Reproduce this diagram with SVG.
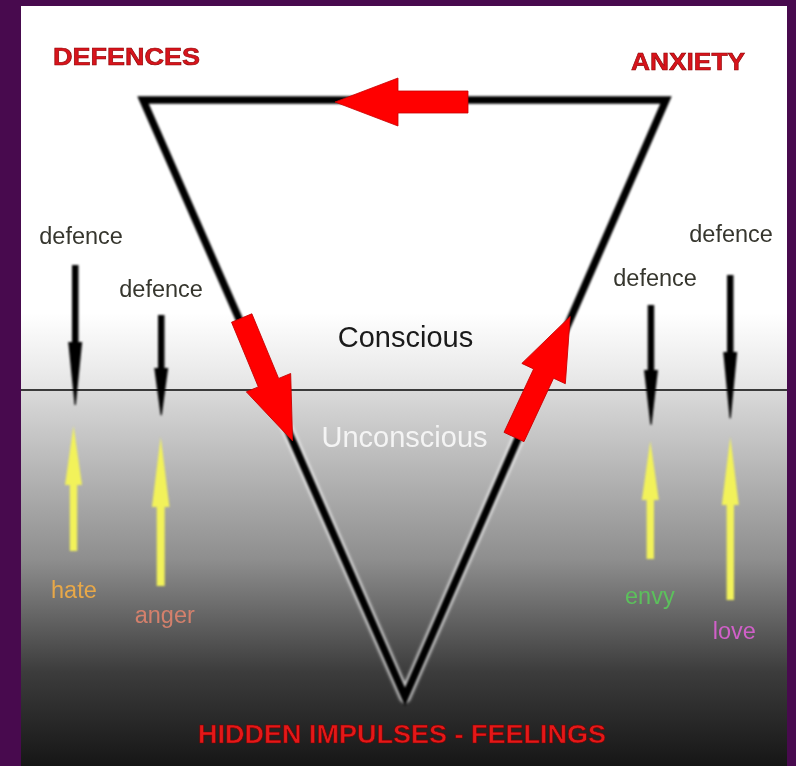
<svg xmlns="http://www.w3.org/2000/svg" width="796" height="766" viewBox="0 0 796 766">
  <defs>
    <linearGradient id="gTop" x1="0" y1="6" x2="0" y2="390" gradientUnits="userSpaceOnUse">
      <stop offset="0" stop-color="#ffffff"/>
      <stop offset="0.8" stop-color="#ffffff"/>
      <stop offset="1" stop-color="#e4e4e4"/>
    </linearGradient>
    <linearGradient id="gBot" x1="0" y1="390" x2="0" y2="766" gradientUnits="userSpaceOnUse">
      <stop offset="0" stop-color="#dadada"/>
      <stop offset="0.45" stop-color="#8e8e8e"/>
      <stop offset="0.75" stop-color="#3c3c3c"/>
      <stop offset="1" stop-color="#161616"/>
    </linearGradient>
    <filter id="soft" x="-20%" y="-20%" width="140%" height="140%">
      <feGaussianBlur stdDeviation="0.8"/>
    </filter>
    <filter id="halo" x="-20%" y="-20%" width="140%" height="140%">
      <feGaussianBlur stdDeviation="1.6"/>
    </filter>
    <path id="redArrow" d="M0,-11 L70,-11 L70,-24 L133,0 L70,24 L70,11 L0,11 Z"/>
    <path id="blackHead" d="M-7,0 L7,0 L0.6,63 L-0.6,63 Z"/>
  </defs>
  <style>
    .red { fill: #d8141c; stroke: #8a0000; stroke-width: 0.6; font-family: "Liberation Sans", Arial, sans-serif; font-weight: bold; }
    .lbl { font-family: "Liberation Sans", Arial, sans-serif; }
    .def { fill: #36362e; font-size: 23.5px; }
    .ra { fill: #ff0000; stroke: #c80000; stroke-width: 0.8; }
    .yel { fill: #f2f25a; }
    .blk { fill: #000000; }
  </style>

  <!-- frame and background -->
  <rect x="0" y="0" width="796" height="766" fill="#480a4e"/>
  <rect x="21" y="6" width="766" height="384" fill="url(#gTop)"/>
  <rect x="21" y="390" width="766" height="376" fill="url(#gBot)"/>
  <line x1="21" y1="390" x2="787" y2="390" stroke="#3a3a3a" stroke-width="2"/>

  <!-- triangle -->
  <g id="triangle">
    <path d="M143,100 L666,100 L405,697 Z" fill="none" stroke="#ffffff" stroke-opacity="0.7" stroke-width="12" stroke-linejoin="round" filter="url(#halo)"/>
    <path d="M143,100 L666,100 L405,697 Z" fill="none" stroke="#000000" stroke-width="7.5" stroke-linejoin="miter" filter="url(#soft)"/>
  </g>

  <!-- red cycle arrows -->
  <g id="connectors">
    <use href="#redArrow" class="ra" transform="translate(468,102) rotate(180)"/>
    <use href="#redArrow" class="ra" transform="translate(241.7,318) rotate(67.5)"/>
    <use href="#redArrow" class="ra" transform="translate(514,437) rotate(-65)"/>

    <!-- black defence arrows -->
    <g filter="url(#soft)">
      <rect class="blk" x="72" y="265" width="6.5" height="78"/>
      <use href="#blackHead" class="blk" transform="translate(75.2,342)"/>
      <rect class="blk" x="158" y="315" width="6.5" height="54"/>
      <use href="#blackHead" class="blk" transform="translate(161.2,368) scale(1,0.75)"/>
      <rect class="blk" x="647.7" y="305" width="6.5" height="66"/>
      <use href="#blackHead" class="blk" transform="translate(651,370) scale(1,0.87)"/>
      <rect class="blk" x="727" y="275" width="6.5" height="78"/>
      <use href="#blackHead" class="blk" transform="translate(730.2,352) scale(1,1.05)"/>
    </g>

    <!-- yellow impulse arrows -->
    <g filter="url(#soft)">
      <path class="yel" d="M73.5,426 L82,485 L77.2,485 L77.2,551 L69.8,551 L69.8,485 L65,485 Z"/>
      <path class="yel" d="M160.7,437 L169.5,507 L164.7,507 L164.7,586 L156.7,586 L156.7,507 L151.9,507 Z"/>
      <path class="yel" d="M650.3,441 L658.8,500 L654,500 L654,559 L646.6,559 L646.6,500 L641.8,500 Z"/>
      <path class="yel" d="M730.3,437 L738.8,505 L734,505 L734,600 L726.6,600 L726.6,505 L721.8,505 Z"/>
    </g>
  </g>

  <!-- titles -->
  <g id="defences-title"><text class="red" x="53" y="65" font-size="24" textLength="147" lengthAdjust="spacingAndGlyphs">DEFENCES</text></g>
  <g id="anxiety-title"><text class="red" x="631" y="70" font-size="24" textLength="114" lengthAdjust="spacingAndGlyphs">ANXIETY</text></g>
  <g id="hidden-title"><text class="red" x="198" y="743" font-size="26" textLength="408" lengthAdjust="spacingAndGlyphs" style="fill:#e41818;stroke:#700000">HIDDEN IMPULSES - FEELINGS</text></g>

  <g id="conscious"><text class="lbl" x="405.5" y="347" font-size="29" fill="#1a1a1a" text-anchor="middle">Conscious</text></g>
  <g id="unconscious"><text class="lbl" x="404.5" y="447" font-size="29" fill="#f4f4f4" text-anchor="middle">Unconscious</text></g>

  <!-- defence labels -->
  <g id="defence-1"><text class="lbl def" x="39.3" y="243.5">defence</text></g>
  <g id="defence-2"><text class="lbl def" x="119.3" y="296.7">defence</text></g>
  <g id="defence-3"><text class="lbl def" x="613.3" y="285.7">defence</text></g>
  <g id="defence-4"><text class="lbl def" x="689.3" y="241.7">defence</text></g>

  <!-- feeling labels -->
  <g id="hate"><text class="lbl" x="51" y="598.3" font-size="23.5" fill="#e8a848">hate</text></g>
  <g id="anger"><text class="lbl" x="134.7" y="623.3" font-size="23.5" fill="#d4806c">anger</text></g>
  <g id="envy"><text class="lbl" x="625" y="604" font-size="23.5" fill="#5cc05c">envy</text></g>
  <g id="love"><text class="lbl" x="712.7" y="639" font-size="23.5" fill="#d060c8">love</text></g>
</svg>
